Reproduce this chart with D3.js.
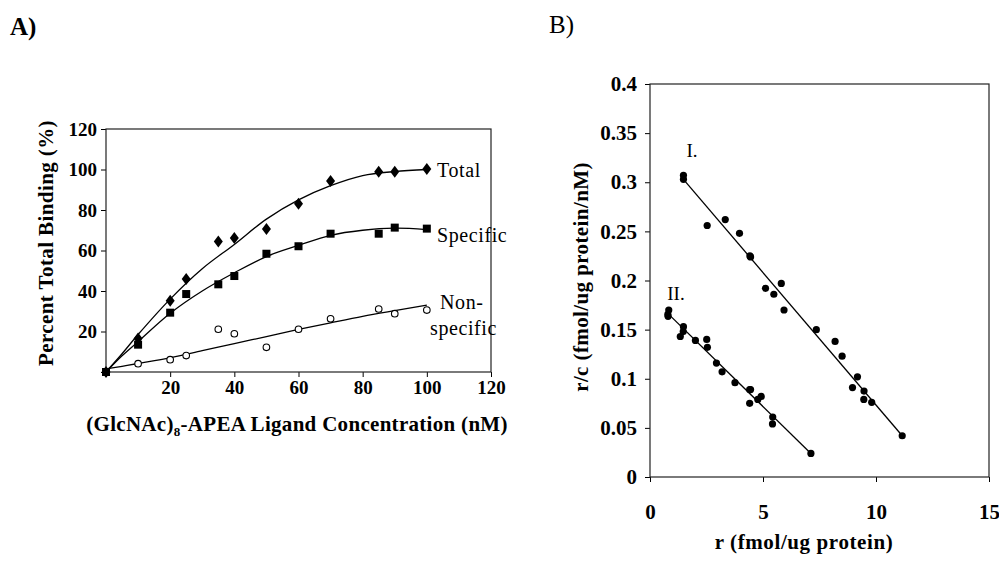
<!DOCTYPE html>
<html>
<head>
<meta charset="utf-8">
<script src="https://cdn.jsdelivr.net/npm/d3@7"></script>
<style>
  body { margin: 0; background: #fff; }
  text { font-family: "Liberation Serif", "Times New Roman", serif; fill: #000; }
</style>
</head>
<body>
<div id="chart"></div>
<script>
// ---- panel A data (saturation binding) ----
var concentration = [0, 10, 20, 25, 35, 40, 50, 60, 70, 85, 90, 100];
var totalBinding = [0, 16.6, 35.2, 45.9, 64.4, 66.2, 70.6, 83.1, 94.3, 98.9, 98.9, 100.2];
var specificBinding = [0, 13.5, 29.3, 38.5, 43.3, 47.4, 58.4, 62.1, 68.3, 68.3, 71.3, 70.8];
var nonSpecificBinding = [0, 4.1, 6.1, 8.1, 21.1, 18.9, 12.2, 21.1, 26.3, 31.1, 28.8, 30.6];

// fitted curves
var fitX = [0, 5, 10, 20, 30, 40, 50, 60, 70, 80, 90, 100];
var totalFit = [0, 9, 18.5, 36, 51, 63, 75.5, 85, 92, 97, 99, 100];
var specificFit = [0, 8, 15, 29, 40, 49, 57, 62.5, 67.5, 70, 71, 70.3];
var nonSpecificFit = [1.5, 2.8, 4.2, 7, 10.5, 14, 17.5, 21, 24.3, 27.5, 30.3, 33];

var ticksA = [0, 20, 40, 60, 80, 100, 120];

// ---- panel B data (Scatchard) ----
var siteIr = [1.48, 1.48, 2.53, 3.33, 3.96, 4.42, 4.45, 5.11, 5.48, 5.81, 5.93, 7.36, 8.19, 8.50, 8.96, 9.18, 9.47, 9.46, 9.81, 11.16];
var siteIrc = [0.307, 0.303, 0.256, 0.262, 0.248, 0.225, 0.224, 0.192, 0.186, 0.197, 0.170, 0.150, 0.138, 0.123, 0.091, 0.102, 0.0875, 0.079, 0.076, 0.042];
var siteIIr = [0.83, 0.79, 0.80, 1.34, 1.47, 1.48, 2.01, 2.51, 2.54, 2.94, 3.19, 3.76, 4.41, 4.45, 4.41, 4.77, 4.92, 5.43, 5.42, 7.12];
var siteIIrc = [0.170, 0.1655, 0.1635, 0.143, 0.148, 0.153, 0.139, 0.140, 0.132, 0.116, 0.107, 0.096, 0.089, 0.089, 0.075, 0.079, 0.082, 0.061, 0.054, 0.024];

var lineIr = [1.48, 11.16];
var lineIrc = [0.303, 0.042];
var lineIIr = [0.81, 7.12];
var lineIIrc = [0.166, 0.024];

var ticksBx = [0, 5, 10, 15];
var ticksBy = [0, 0.05, 0.1, 0.15, 0.2, 0.25, 0.3, 0.35, 0.4];

var width = 999, height = 561;

var svg = d3.select("#chart").append("svg")
  .attr("width", width)
  .attr("height", height);

svg.append("rect").attr("width", width).attr("height", height).attr("fill", "#fff");

// panel letters
svg.append("text").attr("x", 10).attr("y", 35).text("A)")
  .style("font-size", "25px").style("font-weight", "bold");
svg.append("text").attr("x", 549).attr("y", 33).text("B)")
  .style("font-size", "25px");

function styleAxis(size) {
  return function(g) {
    g.selectAll("line").attr("stroke", "#000");
    g.selectAll("path").remove();
    g.selectAll("text").style("font-size", size + "px").style("font-weight", "bold");
  };
}

// ================= panel A =================
var xA = d3.scaleLinear().domain([0, 120]).range([106, 491]);
var yA = d3.scaleLinear().domain([0, 120]).range([372, 129]);

var gA = svg.append("g");

gA.append("g")
  .attr("transform", "translate(0," + yA(0) + ")")
  .call(d3.axisBottom(xA).tickValues(ticksA).tickSize(5).tickPadding(4)
    .tickFormat(function(d) { return d === 0 ? "" : d; }))
  .call(styleAxis(19));

gA.append("g")
  .attr("transform", "translate(" + xA(0) + ",0)")
  .call(d3.axisLeft(yA).tickValues(ticksA).tickSize(5).tickPadding(4)
    .tickFormat(function(d) { return d === 0 ? "" : d; }))
  .call(styleAxis(19));

gA.append("rect")
  .attr("x", xA(0)).attr("y", yA(120))
  .attr("width", xA(120) - xA(0)).attr("height", yA(0) - yA(120))
  .attr("fill", "none").attr("stroke", "#222").attr("stroke-width", 1.2);

var fitLineA = d3.line()
  .x(function(d) { return xA(d[0]); })
  .y(function(d) { return yA(d[1]); })
  .curve(d3.curveCatmullRom.alpha(0.5));

[totalFit, specificFit, nonSpecificFit].forEach(function(fit) {
  gA.append("path")
    .datum(d3.zip(fitX, fit))
    .attr("d", fitLineA)
    .attr("fill", "none")
    .attr("stroke", "#000")
    .attr("stroke-width", 1.3);
});

// non-specific: open circles
gA.selectAll(".ns").data(d3.zip(concentration, nonSpecificBinding)).enter()
  .append("circle")
  .attr("cx", function(d) { return xA(d[0]); })
  .attr("cy", function(d) { return yA(d[1]); })
  .attr("r", 3.3)
  .attr("fill", "#fff").attr("stroke", "#000").attr("stroke-width", 1.1);

// specific: filled squares
gA.selectAll(".sp").data(d3.zip(concentration, specificBinding)).enter()
  .append("rect")
  .attr("x", function(d) { return xA(d[0]) - 4; })
  .attr("y", function(d) { return yA(d[1]) - 4; })
  .attr("width", 8).attr("height", 8)
  .attr("fill", "#000");

// total: filled diamonds
gA.selectAll(".tot").data(d3.zip(concentration, totalBinding)).enter()
  .append("path")
  .attr("transform", function(d) { return "translate(" + xA(d[0]) + "," + yA(d[1]) + ")"; })
  .attr("d", "M0,-6L4.5,0L0,6L-4.5,0Z")
  .attr("fill", "#000");

// series labels
var labelStyle = function(t) { t.style("font-size", "20px").style("letter-spacing", "0.6px"); };
gA.append("text").attr("x", 437).attr("y", 177).text("Total").call(labelStyle);
gA.append("text").attr("x", 437).attr("y", 242).text("Specific").call(labelStyle);
gA.append("text").attr("x", 440).attr("y", 309).text("Non-").call(labelStyle);
gA.append("text").attr("x", 430).attr("y", 335).text("specific").call(labelStyle);

// axis titles
gA.append("text")
  .attr("transform", "translate(53,243) rotate(-90)")
  .attr("text-anchor", "middle")
  .style("font-size", "21px").style("font-weight", "bold").style("letter-spacing", "0.4px")
  .text("Percent Total Binding (%)");

var xt = gA.append("text")
  .attr("x", 297).attr("y", 431)
  .attr("text-anchor", "middle")
  .style("font-size", "21px").style("font-weight", "bold").style("letter-spacing", "0.3px");
xt.append("tspan").text("(GlcNAc)");
xt.append("tspan").attr("dy", 5).style("font-size", "13px").text("8");
xt.append("tspan").attr("dy", -5).text("-APEA Ligand Concentration (nM)");

// ================= panel B =================
var xB = d3.scaleLinear().domain([0, 15]).range([650, 989]);
var yB = d3.scaleLinear().domain([0, 0.4]).range([477, 84]);

var gB = svg.append("g");

gB.append("g")
  .attr("transform", "translate(0," + yB(0) + ")")
  .call(d3.axisBottom(xB).tickValues(ticksBx).tickSize(5).tickPadding(22))
  .call(styleAxis(21));

gB.append("g")
  .attr("transform", "translate(" + xB(0) + ",0)")
  .call(d3.axisLeft(yB).tickValues(ticksBy).tickSize(5).tickPadding(8)
    .tickFormat(function(d) { return String(+d.toFixed(2)); }))
  .call(styleAxis(21));

gB.append("rect")
  .attr("x", xB(0)).attr("y", yB(0.4))
  .attr("width", xB(15) - xB(0)).attr("height", yB(0) - yB(0.4))
  .attr("fill", "none").attr("stroke", "#222").attr("stroke-width", 1.2);

var lineB = d3.line()
  .x(function(d) { return xB(d[0]); })
  .y(function(d) { return yB(d[1]); });

[[lineIr, lineIrc], [lineIIr, lineIIrc]].forEach(function(l) {
  gB.append("path")
    .datum(d3.zip(l[0], l[1]))
    .attr("d", lineB)
    .attr("fill", "none")
    .attr("stroke", "#000")
    .attr("stroke-width", 1.3);
});

[[siteIr, siteIrc], [siteIIr, siteIIrc]].forEach(function(s) {
  gB.append("g").selectAll("circle").data(d3.zip(s[0], s[1])).enter()
    .append("circle")
    .attr("cx", function(d) { return xB(d[0]); })
    .attr("cy", function(d) { return yB(d[1]); })
    .attr("r", 3.6)
    .attr("fill", "#000");
});

gB.append("text").attr("x", 692).attr("y", 157).attr("text-anchor", "middle")
  .style("font-size", "19px").text("I.");
gB.append("text").attr("x", 676).attr("y", 300).attr("text-anchor", "middle")
  .style("font-size", "19px").text("II.");

gB.append("text")
  .attr("transform", "translate(588,277) rotate(-90)")
  .attr("text-anchor", "middle")
  .style("font-size", "21px").style("font-weight", "bold").style("letter-spacing", "0.4px")
  .text("r/c (fmol/ug protein/nM)");

gB.append("text")
  .attr("x", 804).attr("y", 549)
  .attr("text-anchor", "middle")
  .style("font-size", "21px").style("font-weight", "bold").style("letter-spacing", "0.6px")
  .text("r (fmol/ug protein)");
</script>
</body>
</html>
